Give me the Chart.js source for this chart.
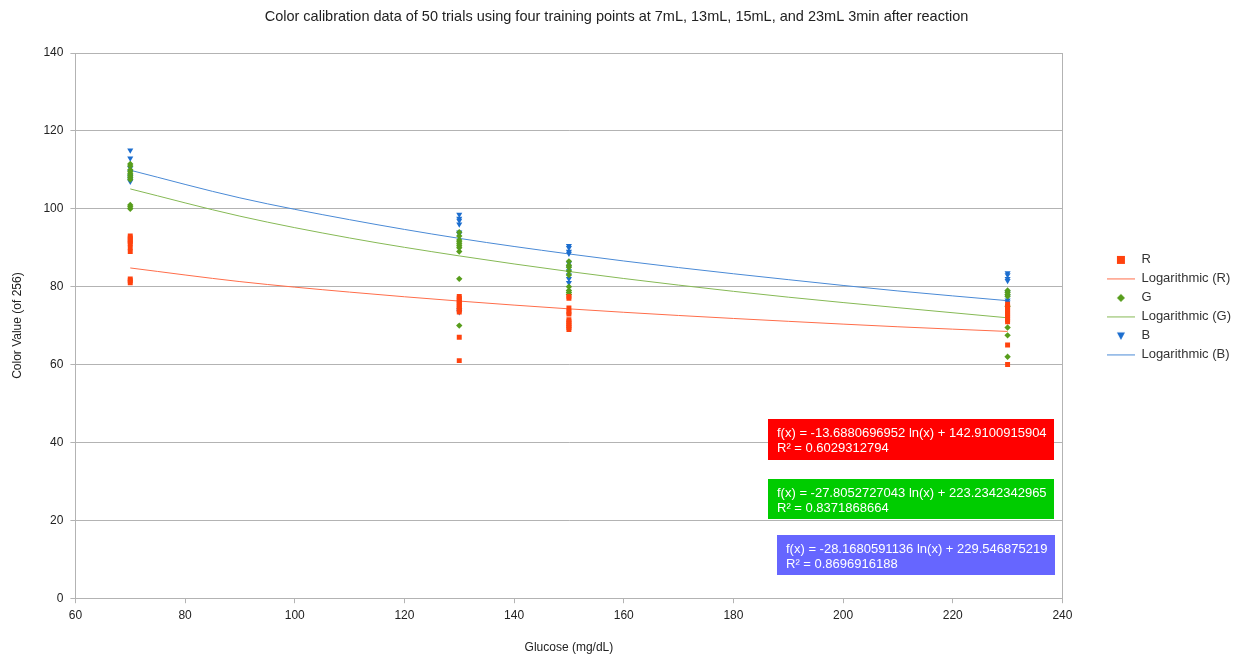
<!DOCTYPE html>
<html>
<head>
<meta charset="utf-8">
<script src="https://cdn.jsdelivr.net/npm/chart.js@4/dist/chart.umd.min.js"></script>
<style>
html, body { margin: 0; padding: 0; background: #fff; }
</style>
</head>
<body>
<canvas id="grafico" width="1241" height="657"></canvas>
<script>
// glucose levels (x) and readings per level for each colour channel
const glucose = [70, 130, 150, 230];

const rValues = [
  [93, 92.5, 92, 91.5, 91, 90, 89, 82, 81.5, 81],
  [77.5, 77, 76.5, 76, 75.5, 75, 74.5, 74, 73.5, 67, 61],
  [77.5, 77, 74.5, 73.5, 73, 71.5, 71, 70.5, 70, 69.5, 69],
  [75.5, 75, 74.5, 74, 73.5, 73, 72.5, 72, 71.5, 71, 65, 60]
];
const gValues = [
  [111.5, 111, 110, 109.5, 109, 108.5, 108, 107.5, 101, 100.5, 100],
  [94, 93, 92, 91.5, 91, 90.5, 90, 89, 82, 70],
  [86.5, 85.5, 85, 84, 83, 80, 79, 78.5, 78],
  [79, 78.5, 78, 77.5, 75, 69.5, 67.5, 62]
];
const bValues = [
  [115, 113, 110.5, 109.5, 108.5, 108, 107.5, 107],
  [98.5, 97.5, 97, 96, 94, 93.5, 74, 73.5],
  [90.5, 90, 89, 88.5, 86, 85, 84, 83, 82, 81],
  [83.5, 83, 82, 81.5, 78.5, 77.5, 76.5, 76]
];

// trend lines
const trendX = [70, 90, 110, 130, 150, 170, 190, 210, 230];
const trendR = [84.8, 81.3, 78.6, 76.3, 74.3, 72.6, 71.1, 69.7, 68.5];
const trendG = [105.1, 98.1, 92.5, 87.9, 83.9, 80.4, 77.3, 74.6, 72.0];
const trendB = [109.9, 102.8, 97.2, 92.4, 88.4, 84.9, 81.8, 78.9, 76.4];

const equations = [
  { lines: ['f(x) = -13.6880696952 ln(x) + 142.9100915904', 'R² = 0.6029312794'], color: '#ff0000', box: [768, 419, 286, 41] },
  { lines: ['f(x) = -27.8052727043 ln(x) + 223.2342342965', 'R² = 0.8371868664'], color: '#00cc00', box: [768, 479, 286, 40] },
  { lines: ['f(x) = -28.1680591136 ln(x) + 229.546875219', 'R² = 0.8696916188'], color: '#6666ff', box: [777, 535, 278, 40] }
];

const redCol = '#ff420e';
const greenCol = '#579d1c';
const blueCol = '#1c6ecf';
const redLine = '#ff6d4a';
const greenLine = '#86b955';
const blueLine = '#4a8ad6';

function toPoints(groups) {
  const pts = [];
  groups.forEach((vals, i) => vals.forEach(v => pts.push({ x: glucose[i], y: v })));
  return pts;
}
function trendPoints(ys) {
  return trendX.map((x, i) => ({ x: x, y: ys[i] }));
}

// little pictures for the legend
function icon(kind, color) {
  const c = document.createElement('canvas');
  const ctx = c.getContext('2d');
  if (kind === 'line') {
    c.width = 28; c.height = 3;
    ctx.strokeStyle = color; ctx.lineWidth = 1;
    ctx.beginPath(); ctx.moveTo(0, 1.5); ctx.lineTo(28, 1.5); ctx.stroke();
    return c;
  }
  c.width = 10; c.height = 10;
  ctx.fillStyle = color;
  ctx.beginPath();
  if (kind === 'rect') {
    ctx.rect(1, 1, 8, 8);
  } else if (kind === 'diamond') {
    ctx.moveTo(5, 1); ctx.lineTo(9, 5); ctx.lineTo(5, 9); ctx.lineTo(1, 5);
  } else {
    ctx.moveTo(1, 1.5); ctx.lineTo(9, 1.5); ctx.lineTo(5, 9);
  }
  ctx.closePath(); ctx.fill();
  return c;
}
const legendIcons = [
  icon('rect', redCol), icon('line', redLine),
  icon('diamond', greenCol), icon('line', greenLine),
  icon('tri', blueCol), icon('line', blueLine)
];

const frame = {
  id: 'frame',
  afterLayout(chart) {
    // the title sits a bit left of the page centre
    chart.titleBlock.right -= 18;
  },
  beforeDatasetsDraw(chart) {
    const a = chart.chartArea, ctx = chart.ctx;
    ctx.save();
    ctx.strokeStyle = '#b3b3b3';
    ctx.lineWidth = 1;
    ctx.strokeRect(Math.round(a.left) + 0.5, Math.round(a.top) + 0.5, Math.round(a.right - a.left), Math.round(a.bottom - a.top));
    ctx.restore();
  }
};

const eqBoxes = {
  id: 'eqBoxes',
  afterDraw(chart) {
    const ctx = chart.ctx;
    ctx.save();
    equations.forEach(eq => {
      const [x, y, w, h] = eq.box;
      ctx.fillStyle = eq.color;
      ctx.fillRect(x, y, w, h);
      ctx.fillStyle = '#ffffff';
      ctx.font = '13px "Liberation Sans", Arial, sans-serif';
      ctx.textBaseline = 'alphabetic';
      ctx.fillText(eq.lines[0], x + 9, y + 18);
      ctx.fillText(eq.lines[1], x + 9, y + 33);
    });
    ctx.restore();
  }
};

Chart.defaults.font.family = '"Liberation Sans", Arial, sans-serif';
Chart.defaults.color = '#333333';

const data = {
  datasets: [
    { label: 'R', data: toPoints(rValues), backgroundColor: redCol, borderColor: redCol, pointStyle: 'rect', pointRadius: 3.5, borderWidth: 0 },
    { label: 'Logarithmic (R)', data: trendPoints(trendR), showLine: true, borderColor: redLine, borderWidth: 1, pointRadius: 0, cubicInterpolationMode: 'monotone' },
    { label: 'G', data: toPoints(gValues), backgroundColor: greenCol, borderColor: greenCol, pointStyle: 'rectRot', pointRadius: 3.2, borderWidth: 0 },
    { label: 'Logarithmic (G)', data: trendPoints(trendG), showLine: true, borderColor: greenLine, borderWidth: 1, pointRadius: 0, cubicInterpolationMode: 'monotone' },
    { label: 'B', data: toPoints(bValues), backgroundColor: blueCol, borderColor: blueCol, pointStyle: 'triangle', rotation: 180, pointRadius: 3.5, borderWidth: 0 },
    { label: 'Logarithmic (B)', data: trendPoints(trendB), showLine: true, borderColor: blueLine, borderWidth: 1, pointRadius: 0, cubicInterpolationMode: 'monotone' }
  ]
};

const config = {
  type: 'scatter',
  data,
  options: {
    responsive: false,
    animation: false,
    layout: { padding: { left: 10, right: 0, top: 4, bottom: 2 } },
    plugins: {
      title: {
        display: true,
        text: 'Color calibration data of 50 trials using four training points at 7mL, 13mL, 15mL, and 23mL 3min after reaction',
        color: '#222',
        font: { size: 14.5, weight: 'normal' },
        padding: { top: 4, bottom: 27.6 }
      },
      legend: {
        position: 'right',
        align: 'start',
        title: { display: true, text: ' ', font: { size: 12 }, padding: { top: 229, bottom: 0 } },
        labels: {
          usePointStyle: true,
          pointStyleWidth: 28,
          padding: 6,
          color: '#222',
          font: { size: 13 },
          generateLabels(chart) {
            return chart.data.datasets.map((ds, i) => ({
              text: ds.label,
              pointStyle: legendIcons[i],
              fillStyle: ds.backgroundColor || ds.borderColor,
              strokeStyle: ds.borderColor,
              lineWidth: 0,
              hidden: false,
              datasetIndex: i
            }));
          }
        }
      },
      tooltip: { enabled: false }
    },
    scales: {
      x: {
        type: 'linear',
        min: 60,
        max: 240,
        ticks: { stepSize: 20, color: '#222', font: { size: 12 }, padding: 5 },
        grid: { drawOnChartArea: false, drawTicks: true, tickLength: 5, color: '#b3b3b3' },
        border: { color: '#b3b3b3' },
        title: { display: true, text: 'Glucose (mg/dL)', color: '#222', font: { size: 12 }, padding: { top: 13, bottom: 0 } }
      },
      y: {
        min: 0,
        max: 140,
        ticks: { stepSize: 20, color: '#222', font: { size: 12 }, padding: 7 },
        grid: { color: '#b3b3b3', drawTicks: true, tickLength: 5 },
        border: { color: '#b3b3b3' },
        title: { display: true, text: 'Color Value (of 256)', color: '#222', font: { size: 12 }, padding: { top: 0, bottom: 12 } }
      },
      // empty spacer between the plot and the legend
      gap: {
        type: 'linear',
        position: 'right',
        display: true,
        ticks: { display: false },
        grid: { display: false },
        border: { display: false },
        afterFit(scale) { scale.width = 38.5; }
      }
    }
  },
  plugins: [frame, eqBoxes]
};

const myChart = new Chart(document.getElementById('grafico'), config);
</script>
</body>
</html>
